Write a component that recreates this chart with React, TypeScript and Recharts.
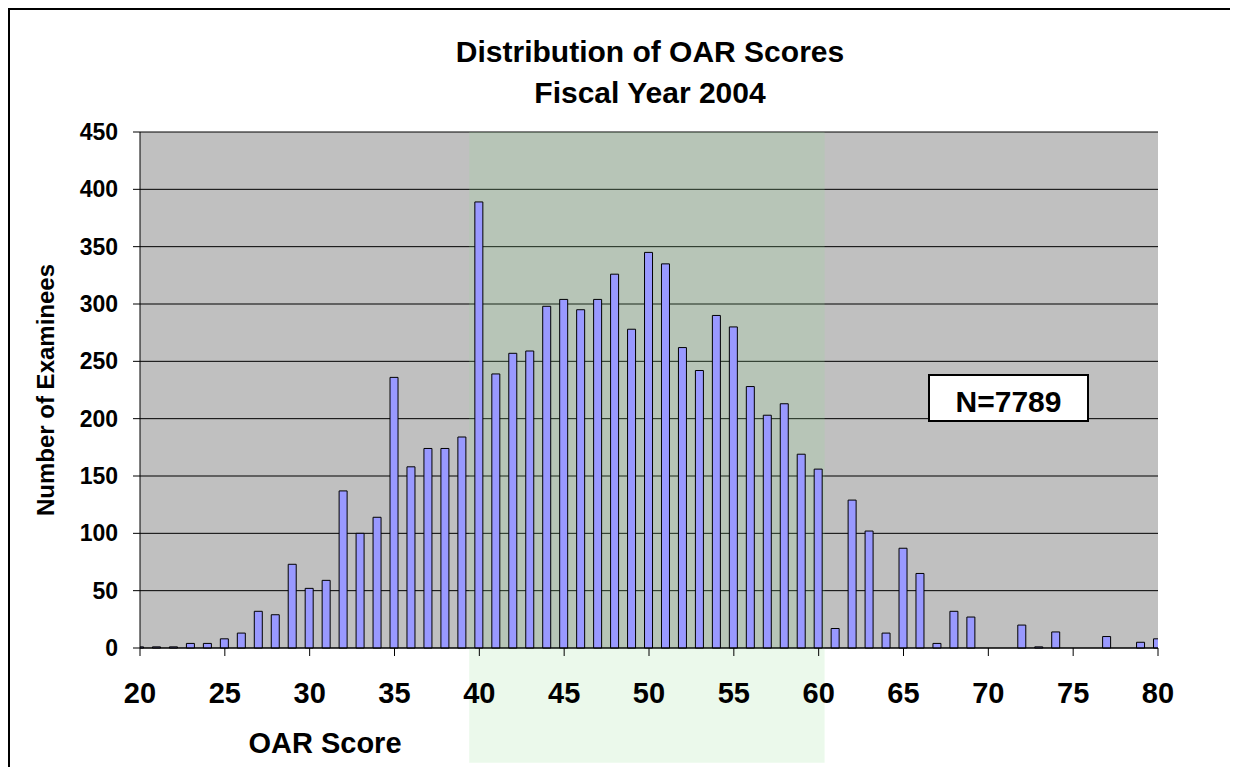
import React from 'react';
import { BarChart, Bar, XAxis, YAxis, CartesianGrid, ReferenceArea } from 'recharts';

const scores = [20,21,22,23,24,25,26,27,28,29,30,31,32,33,34,35,36,37,38,39,40,41,42,43,44,45,46,47,48,49,50,51,52,53,54,55,56,57,58,59,60,61,62,63,64,65,66,67,68,69,70,71,72,73,74,75,76,77,78,79,80];
const examinees = [1,1,1,4,4,8,13,32,29,73,52,59,137,100,114,236,158,174,174,184,389,239,257,259,298,304,295,304,326,278,345,335,262,242,290,280,228,203,213,169,156,17,129,102,13,87,65,4,32,27,0,0,20,1,14,0,0,10,0,5,8];
const xTicks = [20,25,30,35,40,45,50,55,60,65,70,75,80];
const yTicks = [0,50,100,150,200,250,300,350,400,450];
const highlightRange = [39.4, 60.35];
const highlightBottom = -100;

const data = scores.map((s, i) => ({ score: s, count: examinees[i] }));

const FONT = '"Liberation Sans", Arial, sans-serif';

export default function App() {
  return (
    <div style={{ position: 'relative', width: 1228, height: 759, border: '2px solid #000', borderBottom: 'none', boxSizing: 'border-box', fontFamily: FONT, overflow: 'hidden', background: '#fff' }}>
      <BarChart width={1224} height={757} data={data} margin={{ top: 122, right: 76, bottom: 59, left: 60 }}>
        <CartesianGrid vertical={false} horizontal={true} fill="#c0c0c0" stroke="#000" strokeOpacity={1} />
        <ReferenceArea x1={highlightRange[0]} x2={highlightRange[1]} y1={highlightBottom} y2={450} ifOverflow="visible" fill="#8fdc8f" fillOpacity={0.18} stroke="none" />
        <XAxis
          dataKey="score"
          type="number"
          domain={[20, 80]}
          ticks={xTicks}
          allowDataOverflow
          interval={0}
          tickSize={8}
          tickMargin={26}
          stroke="#000"
          tick={{ fill: '#000', fontSize: 29, fontWeight: 'bold', fontFamily: FONT }}
          height={60}
        />
        <YAxis
          domain={[0, 450]}
          ticks={yTicks}
          interval={0}
          tickSize={7}
          tickMargin={15}
          stroke="#000"
          width={70}
          tick={{ fill: '#000', fontSize: 23, fontWeight: 'bold', fontFamily: FONT }}
        />
        <Bar dataKey="count" fill="#9999ff" stroke="#000" strokeWidth={1} barSize={8} isAnimationActive={false} />
      </BarChart>
      <div style={{ position: 'absolute', left: 0, width: 1280, top: 21, textAlign: 'center', fontSize: 30, fontWeight: 'bold', lineHeight: '41px' }}>
        Distribution of OAR Scores<br />Fiscal Year 2004
      </div>
      <div style={{ position: 'absolute', left: 215, width: 200, top: 718, textAlign: 'center', fontSize: 29, fontWeight: 'bold', lineHeight: '30px' }}>
        OAR Score
      </div>
      <div style={{ position: 'absolute', left: 36 - 150, width: 300, top: 380 - 14, height: 28, textAlign: 'center', fontSize: 24, fontWeight: 'bold', lineHeight: '28px', transform: 'rotate(-90deg)' }}>
        Number of Examinees
      </div>
      <div style={{ position: 'absolute', left: 918, top: 364, width: 161, height: 48, boxSizing: 'border-box', border: '2px solid #000', background: '#fff', textAlign: 'center', fontSize: 30, fontWeight: 'bold', lineHeight: '44px', paddingTop: 4, overflow: 'hidden' }}>
        N=7789
      </div>
    </div>
  );
}
